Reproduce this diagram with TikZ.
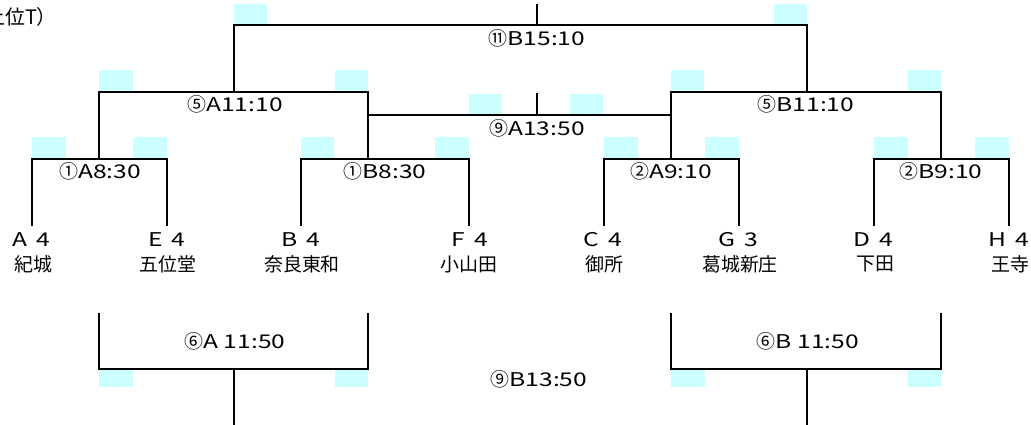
\documentclass[tikz,border=0pt]{standalone}
\usepackage{fontspec}
\setmainfont{Noto Sans CJK JP}
\newfontfamily\cjk{Noto Sans CJK JP}
\newfontfamily\widefont[FakeStretch=1.3]{Noto Sans CJK JP}
\newfontfamily\midfont[FakeStretch=1.3]{Noto Sans CJK JP}
\newcommand\rlab[2]{{\cjk #1}{\widefont #2}}
\newcommand\blab[2]{{\cjk #1}{\midfont #2}}
\definecolor{cyanbox}{RGB}{204,255,255}
\begin{document}
\begin{tikzpicture}[x=1bp,y=-1bp,
  cy/.style={fill=cyanbox,draw=none},
  ln/.style={line width=1.8bp,line cap=rect},
  lab/.style={inner sep=0pt,font=\fontsize{19}{19}\selectfont},
  team/.style={inner sep=0pt,font=\fontsize{19}{19}\selectfont},
  code/.style={inner sep=0pt,font=\fontsize{19}{19}\selectfont\widefont}]
\useasboundingbox (0,0) rectangle (1031,424);
\begin{scope}
\clip (0,0) rectangle (1031,424);
\fill[white] (0,0) rectangle (1031,424);
% cyan marks
\foreach \a/\b/\c/\d in {234/4/267/25, 774/4/807/25,
  99/70/133/92, 335/70/368/92, 671/70/704/92, 908/70/941/92,
  469/94/502/115, 570/94/603/115,
  32/137/66/159, 133/137/167/159, 301/137/334/159, 435/137/469/159,
  604/137/638/159, 705/137/739/159, 874/137/908/159, 975/137/1009/159,
  99/369/133/387, 335/369/368/387, 671/369/705/387, 908/369/941/387}
  \fill[cyanbox] (\a,\b) rectangle (\c,\d);
% coordinates: leaves
\coordinate (lA) at (32,225);
\coordinate (lE) at (167,225);
\coordinate (lB) at (301,225);
\coordinate (lF) at (469,225);
\coordinate (lC) at (604,225);
\coordinate (lG) at (739,225);
\coordinate (lD) at (874,225);
\coordinate (lH) at (1009,225);
% round 1 junctions
\coordinate (r1A) at (99,159);
\coordinate (r1B) at (368,159);
\coordinate (r2A) at (671,159);
\coordinate (r2B) at (941,159);
% round 5 junctions
\coordinate (r5A) at (234,92);
\coordinate (r5B) at (807,92);
% final
\coordinate (f11) at (537,25);
\coordinate (f11top) at (537,5);
% 9A
\coordinate (n9L) at (368,115);
\coordinate (n9R) at (671,115);
\coordinate (n9top) at (537,94);
\coordinate (n9mid) at (537,115);
% bottom
\coordinate (b6AL) at (99,314);
\coordinate (b6AR) at (368,314);
\coordinate (b6A) at (234,369);
\coordinate (b6Aend) at (234,424);
\coordinate (b6BL) at (671,314);
\coordinate (b6BR) at (941,314);
\coordinate (b6B) at (807,369);
\coordinate (b6Bend) at (807,424);
% lines
\draw[ln] (lA) |- (r1A) -| (lE);
\draw[ln] (lB) |- (r1B) -| (lF);
\draw[ln] (lC) |- (r2A) -| (lG);
\draw[ln] (lD) |- (r2B) -| (lH);
\draw[ln] (r1A) |- (r5A) -| (r1B);
\draw[ln] (r2A) |- (r5B) -| (r2B);
\draw[ln] (r5A) |- (f11) -| (r5B);
\draw[ln] (f11top) -- (f11);
\draw[ln] (n9L) -- (n9R);
\draw[ln] (n9top) -- (n9mid);
\draw[ln] (b6AL) |- (b6A) -| (b6AR);
\draw[ln] (b6A) -- (b6Aend);
\draw[ln] (b6BL) |- (b6B) -| (b6BR);
\draw[ln] (b6B) -- (b6Bend);
% match labels
\node[lab] (m11) at (537,38) {\rlab{⑪}{B15:10}};
\node[lab] (m5A) at (235,104) {\rlab{⑤}{A11:10}};
\node[lab] (m5B) at (806,104) {\rlab{⑤}{B11:10}};
\node[lab] (m9A) at (537,128) {\rlab{⑨}{A13:50}};
\node[lab] (m1A) at (100,171) {\rlab{①}{A8:30}};
\node[lab] (m1B) at (385,171) {\rlab{①}{B8:30}};
\node[lab] (m2A) at (671,171) {\rlab{②}{A9:10}};
\node[lab] (m2B) at (941,171) {\rlab{②}{B9:10}};
\node[lab] (m6A) at (235,341) {\blab{⑥}{A 11:50}};
\node[lab] (m6B) at (808,341) {\blab{⑥}{B 11:50}};
\node[lab] (m9B) at (539,379) {\blab{⑨}{B13:50}};
% team codes
\node[code] (cA) at (31,240) {A\hspace{9bp}4};
\node[code] (cE) at (167,240) {E\hspace{9bp}4};
\node[code] (cB) at (301,240) {B\hspace{9bp}4};
\node[code] (cF) at (470,240) {F\hspace{9bp}4};
\node[code] (cC) at (603,240) {C\hspace{9bp}4};
\node[code] (cG) at (738,240) {G\hspace{9bp}3};
\node[code] (cD) at (873,240) {D\hspace{9bp}4};
\node[code] (cH) at (1009,240) {H\hspace{9bp}4};
% team names
\node[team] (tA) at (33,264) {紀城};
\node[team] (tE) at (168,264) {五位堂};
\node[team] (tB) at (302,264) {奈良東和};
\node[team] (tF) at (469,264) {小山田};
\node[team] (tC) at (604,264) {御所};
\node[team] (tG) at (740,264) {葛城新庄};
\node[team] (tD) at (875,264) {下田};
\node[team] (tH) at (1010,264) {王寺};
% partial note top-left
\node[team,anchor=west,font=\fontsize{20}{20}\selectfont] (note) at (-15,17) {上位T）};
\end{scope}
\end{tikzpicture}
\end{document}
